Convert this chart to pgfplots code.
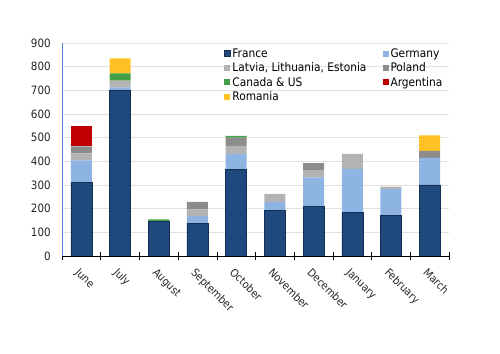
\documentclass[border=0pt]{standalone}
\usepackage{pgfplots}
\pgfplotsset{compat=1.18}
\usepackage{pgfplotstable}
\usepackage{fontspec}
\setmainfont{DejaVu Sans Condensed}
\definecolor{cFR}{HTML}{1F497D}
\definecolor{cDE}{HTML}{8DB4E2}
\definecolor{cLV}{HTML}{B3B3B3}
\definecolor{cPL}{HTML}{8C8C8C}
\definecolor{cCA}{HTML}{43A047}
\definecolor{cAR}{HTML}{C00000}
\definecolor{cRO}{HTML}{FFC125}
\definecolor{cEdge}{HTML}{132F57}
\definecolor{cYax}{HTML}{5B86D6}
\pgfplotstableread{
x FR DE LV PL CA AR RO
0 310 94 30 29 0 85 0
1 700 12 29 0 31 0 63
2 145 0 0 0 10 0 0
3 137 33 27 32 0 0 0
4 365 66 34 35 8 0 0
5 194 34 34 0 0 0 0
6 210 122 31 29 0 0 0
7 183 185 63 0 0 0 0
8 172 111 10 0 0 0 0
9 300 115 0 29 0 0 66
}\datatable
\begin{document}
\begin{tikzpicture}
\useasboundingbox (0,0) rectangle (500pt,353pt);
\begin{axis}[
  at={(62pt,97pt)}, anchor=south west,
  width=387pt, height=213pt, scale only axis,
  ybar stacked, bar width=21pt,
  xmin=-0.5, xmax=9.5, ymin=0, ymax=900,
  ytick={0,100,...,900},
  xtick={0,...,9},
  xticklabels={June,July,August,September,October,November,December,January,February,March},
  minor xtick={-0.5,0.5,...,9.5},
  major x tick style={draw=none},
  minor x tick style={black, line width=0.6pt},
  minor tick length=8pt,
  tick align=center,
  y tick style={draw=none},
  axis x line*=bottom, axis y line*=left,
  x axis line style={-, black, line width=0.6pt},
  y axis line style={-, cYax, line width=0.8pt},
  ymajorgrids, grid style={draw=black!12, line width=0.6pt},
  /pgf/number format/assume math mode=true,
  tick label style={text=black!85},
  xticklabel style={font=\fontsize{11}{13}\selectfont, xshift=-1pt, yshift=-9pt, rotate=-45, anchor=north west, inner sep=0pt},
  yticklabel style={font=\fontsize{11.5}{13}\selectfont, inner sep=0pt, xshift=-9pt},
  legend columns=2,
  legend cell align=left,
  legend style={at={(0.418,0.985)}, anchor=north west, draw=none, fill=none,
    font=\fontsize{11.8}{13}\selectfont, inner sep=0pt, row sep=0pt,
    /tikz/every even column/.append style={column sep=14pt}},
  legend image code/.code={\fill[#1] (0pt,-3pt) rectangle (6pt,3pt);},
]
\addplot[fill=cFR, draw=cEdge, line width=0.5pt] table[x=x,y=FR]{\datatable};
\addlegendentry{France}
\addplot[fill=cDE, draw=none] table[x=x,y=DE]{\datatable};
\addlegendentry{Germany}
\addplot[fill=cLV, draw=none] table[x=x,y=LV]{\datatable};
\addlegendentry{Latvia, Lithuania, Estonia}
\addplot[fill=cPL, draw=none] table[x=x,y=PL]{\datatable};
\addlegendentry{Poland}
\addplot[fill=cCA, draw=none] table[x=x,y=CA]{\datatable};
\addlegendentry{Canada \& US}
\addplot[fill=cAR, draw=none] table[x=x,y=AR]{\datatable};
\addlegendentry{Argentina}
\addplot[fill=cRO, draw=none] table[x=x,y=RO]{\datatable};
\addlegendentry{Romania}
\end{axis}
\end{tikzpicture}
\end{document}
